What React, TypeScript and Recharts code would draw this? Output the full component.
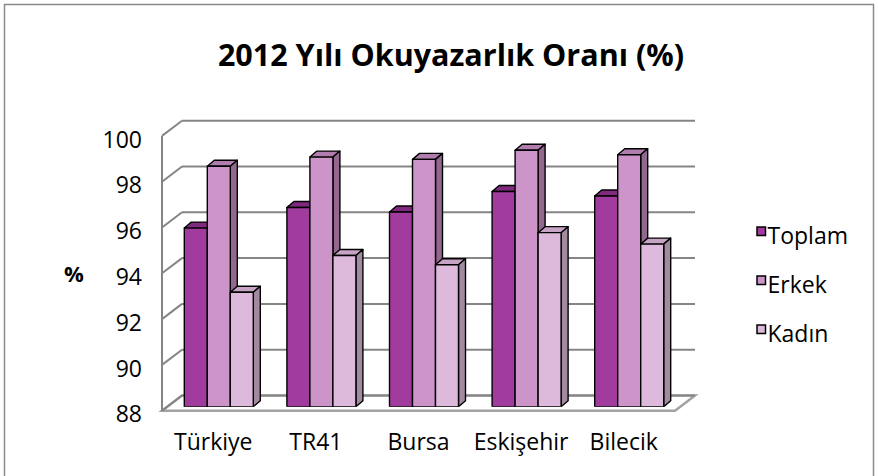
import { BarChart, Bar, XAxis, YAxis, CartesianGrid } from 'recharts';

const categories = ['Türkiye', 'TR41', 'Bursa', 'Eskişehir', 'Bilecik'];
const toplam = [95.8, 96.7, 96.5, 97.4, 97.2];
const erkek = [98.5, 98.9, 98.8, 99.2, 99.0];
const kadin = [93.0, 94.6, 94.2, 95.6, 95.1];
const yTicks = [88, 90, 92, 94, 96, 98, 100];

const series = [
  { key: 'toplam', name: 'Toplam', front: '#A13B9D', top: '#7F2A7C', side: '#6C2A6A' },
  { key: 'erkek', name: 'Erkek', front: '#CC94C8', top: '#B17DAE', side: '#93688F' },
  { key: 'kadin', name: 'Kadın', front: '#DDB9DB', top: '#C7A4C5', side: '#A28BA0' },
];

const data = categories.map((name, i) => ({ name, toplam: toplam[i], erkek: erkek[i], kadin: kadin[i] }));

// layout of the "bar plane" (middle of the 3d box)
const W = 878;
const H = 476;
const PLOT_LEFT = 167.3;
const PLOT_RIGHT = 680.3;
const PLOT_TOP = 131.9;
const PLOT_BOTTOM = 406.7;
const Y_AXIS_W = 60;
const X_AXIS_H = 30;
// front plane / back wall offsets from the bar plane
const FX = -5.3, FY = 4;
const BX = 14.7, BY = -11.2;
// bar depth
const DX = 7, DY = 6;

const GRID = '#858585';
const FONT = '"Open Sans", sans-serif';

const wallLine = (props: any) => {
  const { x1, x2, y1 } = props;
  const y = y1;
  const isTop = Math.abs(y - PLOT_TOP) < 1;
  const isBottom = Math.abs(y - PLOT_BOTTOM) < 1;
  return (
    <g key={props.key} fill="none" stroke={GRID} strokeWidth={2}>
      {isBottom && (
        <path
          d={`M${x1 + FX},${y + FY} L${x2 + FX},${y + FY} L${x2 + BX},${y + BY} L${x1 + BX},${y + BY} Z`}
          fill="#fff"
          stroke="#a3a3a3"
          strokeWidth={2.5}
        />
      )}
      <line x1={x1 + BX} y1={y + BY} x2={x2 + BX} y2={y + BY} />
      <line x1={x1 + FX} y1={y + FY} x2={x1 + BX} y2={y + BY} />
      {isTop && <line x1={x1 + FX} y1={y + FY} x2={x1 + FX} y2={PLOT_BOTTOM + FY} />}
    </g>
  );
};

const bar3d = (s: typeof series[number]) => (props: any) => {
  const { x, y, width, height } = props;
  if (height == null || height <= 0) return <g />;
  return (
    <g stroke="#000" strokeWidth={1.4} strokeLinejoin="round">
      <path d={`M${x},${y} L${x + DX},${y - DY} L${x + width + DX},${y - DY} L${x + width},${y} Z`} fill={s.top} />
      <path
        d={`M${x + width},${y} L${x + width + DX},${y - DY} L${x + width + DX},${y + height - DY} L${x + width},${y + height} Z`}
        fill={s.side}
      />
      <rect x={x} y={y} width={width} height={height} fill={s.front} />
    </g>
  );
};

const YTick = (props: any) => {
  const { y, payload } = props;
  return (
    <text x={PLOT_LEFT + FX - 20} y={y + 15.7} textAnchor="end" fontFamily={FONT} fontSize={23} fill="#000">
      {payload.value}
    </text>
  );
};

const XTick = (props: any) => {
  const { x, payload } = props;
  return (
    <text x={x + FX} y={450} textAnchor="middle" fontFamily={FONT} fontSize={23} fill="#000">
      {payload.value}
    </text>
  );
};

export default function App() {
  return (
    <div style={{ position: 'absolute', left: 0, top: 0, width: W, height: H, background: '#fff' }}>
      <BarChart
        width={W}
        height={H}
        data={data}
        margin={{
          top: PLOT_TOP,
          right: W - PLOT_RIGHT,
          bottom: H - PLOT_BOTTOM - X_AXIS_H,
          left: PLOT_LEFT - Y_AXIS_W,
        }}
        barCategoryGap={17}
        barGap={0}
      >
        <CartesianGrid vertical={false} horizontal={wallLine} />
        <XAxis dataKey="name" axisLine={false} tickLine={false} tick={<XTick />} height={X_AXIS_H} interval={0} />
        <YAxis
          domain={[88, 100]}
          ticks={yTicks}
          axisLine={false}
          tickLine={false}
          tick={<YTick />}
          width={Y_AXIS_W}
          allowDataOverflow
        />
        {series.map((s) => (
          <Bar key={s.key} dataKey={s.key} name={s.name} isAnimationActive={false} shape={bar3d(s)} />
        ))}
      </BarChart>
      <svg width={W} height={H} style={{ position: 'absolute', left: 0, top: 0, pointerEvents: 'none' }}>
        <rect x={4.5} y={4.5} width={869} height={490} fill="none" stroke="#8a8a8a" strokeWidth={1.5} />
        <text x={451} y={66} textAnchor="middle" fontFamily={FONT} fontWeight={700} fontSize={30.5} fill="#000">
          2012 Yılı Okuyazarlık Oranı (%)
        </text>
        <text x={74} y={281.5} textAnchor="middle" fontFamily={FONT} fontWeight={700} fontSize={22} fill="#000">
          %
        </text>
        {series.map((s, i) => (
          <g key={s.key}>
            <rect x={757} y={227 + i * 49} width={8.5} height={8.5} fill={s.front} stroke="#000" strokeWidth={1.5} />
            <text x={767.5} y={243.5 + i * 49} fontFamily={FONT} fontSize={23} fill="#000">
              {s.name}
            </text>
          </g>
        ))}
      </svg>
    </div>
  );
}
